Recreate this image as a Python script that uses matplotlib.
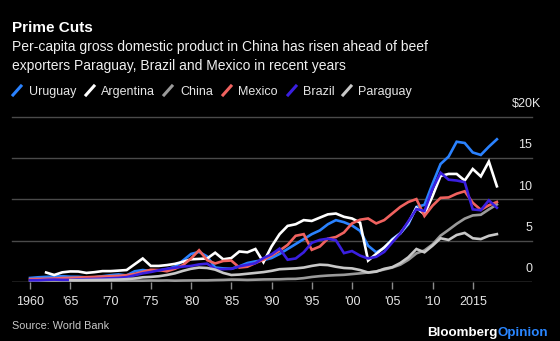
import numpy as np
import matplotlib
matplotlib.use('Agg')
import matplotlib.pyplot as plt
from matplotlib.lines import Line2D

# Data: GDP per capita, thousands of current US$
years = np.arange(1960, 2019)

uruguay = [0.49, 0.57, 0.62, 0.66, 0.70, 0.64, 0.63, 0.56, 0.57, 0.70,
           0.82, 0.92, 0.80, 1.30, 1.45, 1.35, 1.40, 1.55, 1.85, 2.60,
           3.40, 3.65, 3.10, 1.75, 1.65, 1.60, 1.90, 2.30, 2.50, 2.65,
           2.90, 3.40, 4.00, 4.60, 5.20, 5.80, 6.25, 7.00, 7.50, 7.25,
           6.85, 6.20, 4.40, 3.60, 4.10, 5.20, 5.90, 7.00, 9.10, 9.35,
           11.90, 14.30, 15.20, 17.00, 16.85, 15.70, 15.40, 16.40, 17.30]

argentina = [np.nan, np.nan, 1.15, 0.85, 1.17, 1.28, 1.27, 1.10, 1.19, 1.32,
             1.32, 1.38, 1.45, 2.15, 2.85, 1.95, 1.95, 2.05, 2.20, 2.45,
             2.75, 2.80, 2.85, 3.55, 2.75, 2.90, 3.70, 3.60, 4.00, 2.40,
             4.30, 5.80, 6.80, 7.00, 7.50, 7.40, 7.80, 8.20, 8.30, 7.90,
             7.70, 7.20, 2.60, 3.40, 4.20, 5.10, 5.90, 7.20, 9.00, 8.20,
             10.40, 12.85, 13.10, 13.10, 12.30, 13.70, 12.80, 14.60, 11.60]

china = [0.09, 0.08, 0.07, 0.07, 0.09, 0.10, 0.10, 0.10, 0.09, 0.10,
         0.11, 0.12, 0.13, 0.16, 0.16, 0.18, 0.17, 0.19, 0.16, 0.18,
         0.19, 0.20, 0.20, 0.23, 0.25, 0.29, 0.28, 0.25, 0.28, 0.31,
         0.32, 0.33, 0.37, 0.38, 0.47, 0.61, 0.71, 0.78, 0.83, 0.87,
         0.96, 1.05, 1.15, 1.29, 1.51, 1.75, 2.10, 2.69, 3.47, 3.83,
         4.55, 5.62, 6.32, 7.05, 7.68, 8.07, 8.15, 8.80, 9.40]

mexico = [0.35, 0.37, 0.39, 0.42, 0.48, 0.50, 0.54, 0.58, 0.62, 0.66,
          0.70, 0.74, 0.83, 0.98, 1.24, 1.48, 1.45, 1.30, 1.60, 2.05,
          2.85, 3.85, 2.65, 2.25, 2.55, 2.60, 1.75, 1.85, 2.30, 2.70,
          3.20, 3.80, 4.50, 5.60, 5.80, 3.90, 4.30, 5.25, 5.45, 6.00,
          7.10, 7.55, 7.70, 7.10, 7.50, 8.30, 9.10, 9.70, 10.05, 8.00,
          9.25, 10.20, 10.25, 10.70, 11.00, 9.60, 8.75, 9.30, 9.70]

brazil = [0.21, 0.21, 0.26, 0.29, 0.26, 0.26, 0.32, 0.35, 0.37, 0.40,
          0.45, 0.50, 0.59, 0.81, 1.05, 1.21, 1.42, 1.60, 1.73, 1.87,
          1.95, 2.13, 2.23, 1.57, 1.56, 1.60, 1.90, 2.08, 2.28, 2.90,
          3.35, 4.05, 2.70, 2.85, 3.60, 4.75, 5.10, 5.25, 5.05, 3.50,
          3.75, 3.20, 2.85, 3.05, 3.65, 4.80, 5.90, 7.35, 8.85, 8.60,
          11.30, 13.25, 12.40, 12.30, 12.10, 8.80, 8.70, 9.90, 9.00]

paraguay = [np.nan] * 5 + [
            0.22, 0.23, 0.24, 0.25, 0.26,
            0.28, 0.30, 0.34, 0.43, 0.57, 0.62, 0.70, 0.85, 1.05, 1.35,
            1.60, 1.75, 1.70, 1.50, 1.10, 0.85, 0.90, 1.00, 1.10, 1.20,
            1.35, 1.55, 1.60, 1.65, 1.75, 1.95, 2.10, 2.05, 1.85, 1.70,
            1.65, 1.45, 1.15, 1.25, 1.60, 1.80, 2.30, 3.00, 4.00, 3.60,
            4.40, 5.30, 5.10, 5.70, 5.95, 5.30, 5.20, 5.60, 5.80]

names = ['Uruguay', 'Argentina', 'China', 'Mexico', 'Brazil', 'Paraguay']
series = [uruguay, argentina, china, mexico, brazil, paraguay]
colors = ['#2a82ff', '#ffffff', '#9a9a9a', '#f0625f', '#3a1fe0', '#c8c8c8']

tick_years = list(range(1960, 2016, 5))
tick_labels = ['1960', "'65", "'70", "'75", "'80", "'85", "'90", "'95",
               "'00", "'05", "'10", '2015']
y_levels = [0, 5, 10, 15, 20]
y_labels = ['0', '5', '10', '15', '$20K']

plt.rcParams['font.family'] = ['Liberation Sans', 'DejaVu Sans']

W, H = 560, 341


def fx(px):
    return px / W


def fy(py):
    return 1 - py / H


fig = plt.figure(figsize=(5.6, 3.41), dpi=100, facecolor='black')
ax = fig.add_axes([fx(12), fy(282), fx(532) - fx(12), fy(117) - fy(282)])
ax.set_facecolor('black')
ax.set_xlim(1957.76, 2022.36)
ax.set_ylim(0, 20)
for s in ax.spines.values():
    s.set_visible(False)

# gridlines
for v in y_levels[1:]:
    ax.axhline(v, color='#4a4a4a', lw=1, zorder=0, clip_on=False)
ax.axhline(0, color='#8c8c8c', lw=1, zorder=0.5)

# series
for i, (name, vals, c) in enumerate(zip(names, series, colors)):
    ax.plot(years, vals, color=c, lw=1.9, solid_joinstyle='miter',
            zorder=2 + i, label=name)

# x axis
ax.set_xticks(tick_years)
ax.set_xticklabels(tick_labels)
ax.tick_params(axis='x', colors='#8c8c8c', length=5, width=1, pad=5,
               labelsize=9, labelcolor='#e6e6e6')
ax.set_yticks([])

# y labels sit above the gridlines at the right edge
for v, lab in zip(y_levels, y_labels):
    if lab.startswith('$'):
        ax.annotate(lab, xy=(fx(512), v), xycoords=('figure fraction', 'data'),
                    xytext=(0, 7), textcoords='offset pixels', ha='left',
                    va='bottom', fontsize=9, color='#e6e6e6')
    else:
        ax.annotate(lab, xy=(1, v), xycoords=('axes fraction', 'data'),
                    xytext=(0, 7), textcoords='offset pixels', ha='right',
                    va='bottom', fontsize=9, color='#e6e6e6')

# titles
fig.text(fx(12), fy(32), 'Prime Cuts', fontsize=11, fontweight='bold',
         color='white', va='baseline')
fig.text(fx(12), fy(51),
         'Per-capita gross domestic product in China has risen ahead of beef',
         fontsize=10, color='#f0f0f0', va='baseline')
fig.text(fx(12), fy(70),
         'exporters Paraguay, Brazil and Mexico in recent years',
         fontsize=10, color='#f0f0f0', va='baseline')

# legend row
icon_x = [13, 86, 164, 223, 288, 343]
text_x = [28.5, 101, 180, 238, 303, 358]
leg_base = 95
for n, c, ix, tx in zip(names, colors, icon_x, text_x):
    fig.add_artist(Line2D([fx(ix), fx(ix + 8)], [fy(leg_base), fy(leg_base - 9)],
                          transform=fig.transFigure, color=c, lw=2.2))
    fig.text(fx(tx), fy(leg_base), n, fontsize=9, color='#e6e6e6',
             va='baseline')

# footer
fig.text(fx(12), fy(329), 'Source: World Bank', fontsize=7.8,
         color='#c8c8c8', va='baseline')
t1 = fig.text(fx(427), fy(336), 'Bloomberg', fontsize=9.6, fontweight='bold',
              color='white', va='baseline')
fig.canvas.draw()
bb = t1.get_window_extent()
fig.text(bb.x1 / fig.bbox.width, fy(336), 'Opinion', fontsize=9.6,
         fontweight='bold', color='#2a86ff', va='baseline')

fig.savefig('out.png', dpi=100, facecolor='black')
